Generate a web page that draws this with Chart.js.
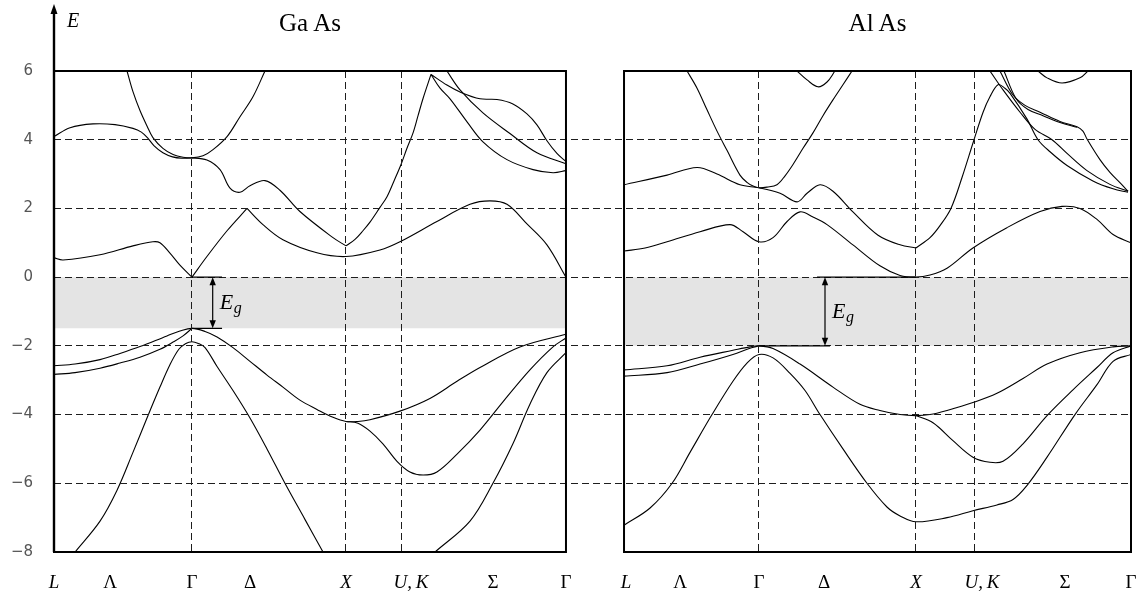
<!DOCTYPE html>
<html>
<head>
<meta charset="utf-8">
<script src="https://cdn.jsdelivr.net/npm/chart.js@4.4.1/dist/chart.umd.min.js"></script>
<style>
  html, body { margin: 0; padding: 0; background: #fff; }
  #wrap { position: relative; width: 1143px; height: 594px; }
</style>
</head>
<body>
<div id="wrap"><canvas id="bands"></canvas></div>
<script>
// k-path position (same units for both panels), energy in eV
const pathLabels = ['L', 'Λ', 'Γ', 'Δ', 'X', 'U,\u2009K', 'Σ', 'Γ'];
const italicLabels = ['L', 'X', 'U,\u2009K'];
const gaasLabelK = [0, 0.359, 0.884, 1.256, 1.871, 2.288, 2.813, 3.281];
const alasLabelK = [0.013, 0.359, 0.865, 1.282, 1.871, 2.294, 2.826, 3.249];
const gaasLineK = [0.884, 1.871, 2.224];   // Γ, X, U,K
const alasLineK = [0.865, 1.871, 2.243];
const gaasEnd = 3.281;
const alasEnd = 3.249;
const energyTicks = [6, 4, 2, 0, -2, -4, -6, -8];
const gaasGap = 1.49;
const alasGap = 2.0;

// GaAs conduction bands
const gaasCb1a = [[0,0.56],[0.058,0.5],[0.295,0.65],[0.506,0.91],[0.634,1.03],[0.679,1.0],[0.743,0.7],[0.807,0.35],[0.884,0]];
const gaasCb1b = [[0.884,0],[0.980,0.6],[1.109,1.35],[1.237,2.0]];
const gaasCb1c = [[1.237,2.0],[1.339,1.53],[1.467,1.09],[1.685,0.71],[1.871,0.6],[2.089,0.79],[2.217,1.03],[2.454,1.62],[2.666,2.12],[2.794,2.22],[2.903,2.12],[3.031,1.55],[3.159,0.94],[3.281,0]];
const gaasCb2a = [[0,4.09],[0.103,4.35],[0.250,4.46],[0.391,4.44],[0.506,4.33],[0.560,4.22],[0.600,4.05],[0.640,3.83],[0.698,3.62],[0.760,3.5],[0.820,3.46],[0.884,3.47],[0.980,3.41],[1.064,3.13],[1.128,2.59],[1.192,2.47],[1.256,2.66],[1.352,2.81],[1.448,2.53],[1.576,1.91],[1.788,1.15],[1.871,0.91]];
const gaasCb2b = [[1.871,0.91],[1.929,1.1],[1.980,1.35],[2.025,1.6],[2.089,2.03],[2.134,2.34],[2.179,2.8],[2.224,3.28],[2.262,3.75],[2.301,4.2],[2.333,4.7],[2.365,5.2],[2.416,5.9]];
const gaasCb3 = [[0.468,6],[0.506,5.4],[0.551,4.85],[0.596,4.4],[0.634,4.06],[0.698,3.75],[0.763,3.57],[0.827,3.49],[0.884,3.47],[0.955,3.53],[1.019,3.71],[1.109,4.09],[1.192,4.67],[1.275,5.25],[1.352,6]];
const gaasUp1 = [[2.416,5.9],[2.518,5.59],[2.602,5.39],[2.730,5.19],[2.839,5.17],[2.941,5.04],[3.031,4.75],[3.095,4.43],[3.159,3.97],[3.223,3.6],[3.281,3.36]];
const gaasUp2 = [[2.416,5.9],[2.474,5.5],[2.538,5.19],[2.647,4.52],[2.749,3.94],[2.903,3.42],[3.070,3.13],[3.198,3.04],[3.281,3.1]];
const gaasUp3 = [[2.518,6],[2.602,5.45],[2.749,4.78],[2.922,4.18],[3.095,3.62],[3.281,3.3]];
// GaAs valence bands
const gaasVb1 = [[0,-2.58],[0.135,-2.53],[0.295,-2.4],[0.423,-2.22],[0.551,-2.02],[0.724,-1.71],[0.807,-1.57],[0.884,-1.49],[0.968,-1.58],[1.045,-1.74],[1.147,-2.05],[1.256,-2.45],[1.365,-2.85],[1.467,-3.2],[1.576,-3.58],[1.685,-3.85],[1.788,-4.08],[1.871,-4.2],[1.948,-4.2],[2.025,-4.15],[2.217,-3.9],[2.409,-3.53],[2.583,-3.03],[2.730,-2.63],[2.986,-2.03],[3.281,-1.66]];
const gaasVb2 = [[0,-2.83],[0.135,-2.78],[0.295,-2.65],[0.423,-2.5],[0.551,-2.33],[0.679,-2.1],[0.763,-1.89],[0.827,-1.71],[0.884,-1.49]];
const gaasVb3 = [[1.871,-4.2],[1.948,-4.25],[2.025,-4.48],[2.108,-4.85],[2.198,-5.36],[2.281,-5.67],[2.365,-5.76],[2.454,-5.67],[2.583,-5.15],[2.730,-4.45],[2.877,-3.63],[3.050,-2.7],[3.198,-2.03],[3.281,-1.77]];
const gaasVb4 = [[0.135,-8],[0.295,-7.1],[0.404,-6.2],[0.506,-5.1],[0.596,-4.1],[0.679,-3.2],[0.743,-2.55],[0.800,-2.1],[0.845,-1.93],[0.884,-1.88],[0.925,-1.93],[0.968,-2.05],[1.045,-2.6],[1.147,-3.3],[1.256,-4.1],[1.365,-5.0],[1.480,-6.0],[1.608,-7.05],[1.724,-8]];
const gaasVb5 = [[2.442,-8],[2.666,-7.1],[2.813,-6],[2.941,-4.85],[3.050,-3.7],[3.159,-2.78],[3.281,-2.2]];

// AlAs conduction bands
const alasCb1 = [[0,0.76],[0.135,0.85],[0.276,1.03],[0.487,1.32],[0.679,1.53],[0.763,1.32],[0.865,1.03],[0.955,1.15],[1.045,1.62],[1.128,1.9],[1.211,1.75],[1.301,1.53],[1.467,0.94],[1.640,0.33],[1.769,0.05],[1.871,0],[1.961,0.06],[2.070,0.26],[2.236,0.85],[2.454,1.44],[2.666,1.91],[2.807,2.06],[2.922,2.0],[3.031,1.68],[3.134,1.24],[3.249,1.0]];
const alasCb2a = [[0,2.69],[0.276,2.97],[0.468,3.19],[0.596,3.0],[0.743,2.69],[0.865,2.6],[1.000,2.44],[1.109,2.19],[1.173,2.44],[1.256,2.69],[1.339,2.5],[1.467,1.9],[1.628,1.22],[1.769,0.94],[1.871,0.85]];
const alasCb2b = [[1.871,0.85],[1.961,1.15],[2.025,1.5],[2.095,2.0],[2.166,2.9],[2.243,4.0],[2.301,4.8],[2.345,5.25],[2.397,5.6],[2.441,5.5],[2.474,5.35],[2.583,4.6],[2.653,4.0],[2.730,3.65],[2.839,3.25],[3.005,2.8],[3.134,2.57],[3.230,2.47]];
const alasCb3 = [[0.404,6],[0.468,5.5],[0.532,4.87],[0.596,4.25],[0.660,3.69],[0.743,2.97],[0.788,2.76],[0.827,2.65],[0.865,2.6],[0.916,2.62],[0.980,2.69],[1.032,2.95],[1.083,3.28],[1.147,3.75],[1.211,4.2],[1.275,4.7],[1.339,5.16],[1.403,5.6],[1.461,6]];
const alasDiag = [[2.345,6],[2.429,5.45],[2.538,4.8],[2.634,4.3],[2.743,4.0],[2.839,3.6],[2.967,3.1],[3.114,2.7],[3.230,2.5]];
const alasUp1 = [[2.409,6],[2.493,5.3],[2.570,5.0],[2.666,4.8],[2.794,4.53],[2.903,4.38],[2.941,4.25],[2.967,4.02],[3.050,3.42],[3.114,3.05],[3.178,2.75],[3.230,2.5]];
const alasUp2 = [[2.435,6],[2.512,5.2],[2.589,4.88],[2.685,4.7],[2.794,4.5],[2.903,4.36]];
const alasTop1 = [[1.109,6],[1.173,5.74],[1.243,5.54],[1.301,5.68],[1.352,6]];
const alasTop2 = [[2.653,6],[2.711,5.8],[2.807,5.65],[2.922,5.8],[2.973,6]];
// AlAs valence bands
const alasVb1 = [[0,-2.7],[0.276,-2.58],[0.487,-2.33],[0.698,-2.13],[0.807,-2.03],[0.865,-2.0],[0.955,-2.08],[1.128,-2.53],[1.339,-3.2],[1.512,-3.7],[1.640,-3.88],[1.769,-4.0],[1.871,-4.03],[1.961,-4.0],[2.070,-3.88],[2.236,-3.65],[2.390,-3.38],[2.557,-2.95],[2.711,-2.53],[2.922,-2.2],[3.134,-2.03],[3.249,-2.0]];
const alasVb2 = [[0,-2.88],[0.276,-2.78],[0.487,-2.53],[0.698,-2.25],[0.807,-2.07],[0.865,-2.0]];
const alasVb3 = [[1.871,-4.03],[1.980,-4.24],[2.108,-4.76],[2.236,-5.24],[2.345,-5.39],[2.429,-5.36],[2.557,-4.85],[2.711,-4.03],[2.877,-3.28],[3.031,-2.63],[3.134,-2.2],[3.249,-2.0]];
const alasVb4 = [[0,-7.22],[0.167,-6.72],[0.308,-6.0],[0.423,-5.1],[0.564,-4.0],[0.698,-3.03],[0.788,-2.5],[0.865,-2.25],[0.955,-2.35],[1.064,-2.8],[1.160,-3.3],[1.256,-4.0],[1.403,-5.0],[1.557,-6.0],[1.685,-6.69],[1.769,-6.95],[1.871,-7.12],[2.070,-7.0],[2.236,-6.8],[2.390,-6.63],[2.493,-6.47],[2.583,-6.06],[2.711,-5.24],[2.890,-4.0],[3.031,-3.13],[3.134,-2.45],[3.249,-2.25]];

const gaasBands = [gaasCb1a, gaasCb1b, gaasCb1c, gaasCb2a, gaasCb2b, gaasCb3, gaasUp1, gaasUp2, gaasUp3,
                   gaasVb1, gaasVb2, gaasVb3, gaasVb4, gaasVb5];
const alasBands = [alasCb1, alasCb2a, alasCb2b, alasCb3, alasDiag, alasUp1, alasUp2, alasTop1, alasTop2,
                   alasVb1, alasVb2, alasVb3, alasVb4];

const alasShift = 3.653; // start of the AlAs panel on the shared x axis
const gridColor = '#1e1e1e';

function bandSet(points, shift) {
    return {
        data: points.map(p => ({x: p[0] + shift, y: p[1]})),
        borderColor: '#000',
        borderWidth: 1.1,
        pointRadius: 0,
        tension: 0.35,
        fill: false,
        order: 1
    };
}

function gapSet(shift, end, gap) {
    return {
        data: [{x: shift, y: 0}, {x: shift + end, y: 0}],
        borderWidth: 0,
        borderColor: 'rgba(0,0,0,0)',
        pointRadius: 0,
        fill: {value: -gap},
        backgroundColor: '#e4e4e4',
        order: 10
    };
}

// x ticks: labelled ticks (no grid) and dashed line ticks (no label)
let xTicks = [];
pathLabels.forEach((lab, i) => {
    xTicks.push({value: gaasLabelK[i], label: lab, line: false});
    xTicks.push({value: alasLabelK[i] + alasShift, label: lab, line: false});
});
gaasLineK.forEach(k => xTicks.push({value: k, label: '', line: true}));
alasLineK.forEach(k => xTicks.push({value: k + alasShift, label: '', line: true}));
xTicks.sort((a, b) => a.value - b.value);

const datasets = [];
gaasBands.forEach(b => datasets.push(bandSet(b, 0)));
alasBands.forEach(b => datasets.push(bandSet(b, alasShift)));
datasets.push(gapSet(0, gaasEnd, gaasGap));
datasets.push(gapSet(alasShift, alasEnd, alasGap));

function arrowHead(ctx, x, y, dir) {
    ctx.beginPath();
    ctx.moveTo(x, y);
    ctx.lineTo(x - 3.2, y - dir * 8);
    ctx.lineTo(x + 3.2, y - dir * 8);
    ctx.closePath();
    ctx.fill();
}

function drawGap(ctx, xs, ys, o) {
    const xa = xs.getPixelForValue(o.arrowK);
    const y0 = ys.getPixelForValue(0);
    const y1 = ys.getPixelForValue(-o.gap);
    ctx.lineWidth = 1.2;
    ctx.beginPath();
    ctx.moveTo(xs.getPixelForValue(o.topFrom), y0);
    ctx.lineTo(xs.getPixelForValue(o.topTo), y0);
    ctx.moveTo(xs.getPixelForValue(o.botFrom), y1);
    ctx.lineTo(xs.getPixelForValue(o.botTo), y1);
    ctx.moveTo(xa, y0 + 4);
    ctx.lineTo(xa, y1 - 4);
    ctx.stroke();
    arrowHead(ctx, xa, y0, -1);
    arrowHead(ctx, xa, y1, 1);
    const ty = (y0 + y1) / 2 + 6;
    ctx.font = 'italic 22px "Liberation Serif"';
    ctx.textAlign = 'left';
    ctx.textBaseline = 'alphabetic';
    ctx.fillText('E', xa + 7, ty);
    ctx.font = 'italic 16px "Liberation Serif"';
    ctx.fillText('g', xa + 21, ty + 4);
}

const decorations = {
    id: 'decorations',
    afterDraw(chart) {
        const ctx = chart.ctx;
        const xs = chart.scales.x;
        const ys = chart.scales.y;
        const top = ys.getPixelForValue(6);
        const bottom = ys.getPixelForValue(-8);
        ctx.save();
        ctx.strokeStyle = '#000';
        ctx.fillStyle = '#000';

        // panel frames
        ctx.lineWidth = 2;
        [[0, gaasEnd], [alasShift, alasShift + alasEnd]].forEach(p => {
            const l = xs.getPixelForValue(p[0]);
            const r = xs.getPixelForValue(p[1]);
            ctx.strokeRect(l, top, r - l, bottom - top);
        });

        // energy axis with arrow
        const x0 = xs.getPixelForValue(0);
        ctx.lineWidth = 2.4;
        ctx.beginPath();
        ctx.moveTo(x0, bottom);
        ctx.lineTo(x0, 13);
        ctx.stroke();
        ctx.beginPath();
        ctx.moveTo(x0, 4);
        ctx.lineTo(x0 - 3.5, 14);
        ctx.lineTo(x0 + 3.5, 14);
        ctx.closePath();
        ctx.fill();
        ctx.font = 'italic 20px "Liberation Serif"';
        ctx.textAlign = 'left';
        ctx.textBaseline = 'alphabetic';
        ctx.fillText('E', x0 + 13, 27);

        // panel titles
        ctx.font = '25px "Liberation Serif"';
        ctx.textAlign = 'center';
        ctx.fillText('Ga\u2009As', (xs.getPixelForValue(0) + xs.getPixelForValue(gaasEnd)) / 2, 31);
        ctx.fillText('Al\u2009As', (xs.getPixelForValue(alasShift) + xs.getPixelForValue(alasShift + alasEnd)) / 2, 31);

        // band gap markers
        drawGap(ctx, xs, ys, {gap: gaasGap, arrowK: 1.017, topFrom: 0.884, topTo: 1.077, botFrom: 0.884, botTo: 1.077});
        drawGap(ctx, xs, ys, {gap: alasGap, arrowK: alasShift + 1.288, topFrom: alasShift + 1.237, topTo: alasShift + 1.871,
                              botFrom: alasShift + 0.865, botTo: alasShift + 1.320});
        ctx.restore();
    }
};

new Chart(document.getElementById('bands'), {
    type: 'line',
    data: {datasets: datasets},
    options: {
        responsive: true,
        maintainAspectRatio: false,
        animation: false,
        devicePixelRatio: 1,
        layout: {padding: {top: 71, right: 12, bottom: 0, left: 0}},
        plugins: {legend: {display: false}, tooltip: {enabled: false}},
        scales: {
            x: {
                type: 'linear',
                min: 0,
                max: alasShift + alasEnd,
                afterFit: s => { s.height = 42; },
                afterBuildTicks: s => { s.ticks = xTicks.map(t => ({value: t.value})); },
                ticks: {
                    autoSkip: false,
                    maxRotation: 0,
                    padding: 0,
                    color: '#000',
                    callback: (v, i) => xTicks[i] ? xTicks[i].label : '',
                    font: c => {
                        const t = xTicks[c.index];
                        const it = t && italicLabels.includes(t.label);
                        return {family: 'Liberation Serif', size: 19, style: it ? 'italic' : 'normal'};
                    }
                },
                grid: {
                    drawTicks: true,
                    tickLength: 20,
                    tickColor: 'rgba(0,0,0,0)',
                    z: 1,
                    lineWidth: 1,
                    color: c => (xTicks[c.index] && xTicks[c.index].line) ? gridColor : 'rgba(0,0,0,0)'
                },
                border: {display: false, dash: [7, 4]}
            },
            y: {
                type: 'linear',
                min: -8,
                max: 6,
                afterFit: s => { s.width = 54; },
                afterBuildTicks: s => { s.ticks = energyTicks.map(v => ({value: v})); },
                ticks: {
                    padding: 21,
                    color: '#555',
                    font: {family: 'DejaVu Sans', size: 15},
                    callback: v => v < 0 ? '\u2212' + Math.abs(v) : String(v)
                },
                grid: {
                    drawTicks: false,
                    z: 1,
                    lineWidth: 1,
                    color: c => (c.tick && (c.tick.value === 6 || c.tick.value === -8)) ? 'rgba(0,0,0,0)' : gridColor
                },
                border: {display: false, dash: [7, 4]}
            }
        }
    },
    plugins: [decorations]
});
</script>
</body>
</html>
